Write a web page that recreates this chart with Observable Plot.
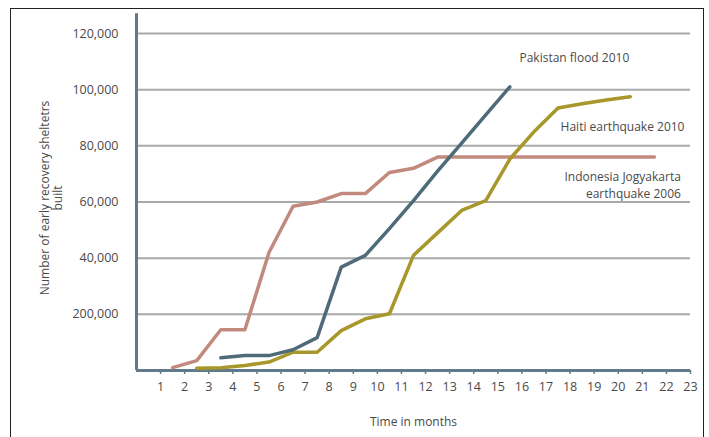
<!DOCTYPE html>
<html><head><meta charset="utf-8">
<script src="https://cdn.jsdelivr.net/npm/d3@7"></script>
<script src="https://cdn.jsdelivr.net/npm/@observablehq/plot@0.6"></script>
<style>
body{margin:0;background:#fff;}
#wrap{position:relative;width:709px;height:437px;overflow:hidden;}
#frame{position:absolute;left:10px;top:8px;width:694px;height:440px;border:1.5px solid #222;pointer-events:none;box-sizing:border-box;}
</style></head><body><div id="wrap"><div id="frame"></div></div>
<script>
const months = d3.range(1, 24);
const yTicks = [20000, 40000, 60000, 80000, 100000, 120000];
const yTickLabels = ["200,000", "40,000", "60,000", "80,000", "100,000", "120,000"];

const indonesiaMonths = [1.5,2.5,3.5,4.5,5.5,6.5,7.5,8.5,9.5,10.5,11.5,12.5,13.5,14.5,15.5,16.5,17.5,18.5,19.5,20.5,21.5];
const indonesiaValues = [1000,3500,14500,14500,42000,58500,60000,63000,63000,70500,72000,76000,76000,76000,76000,76000,76000,76000,76000,76000,76000];

const pakistanMonths = [3.5,4.5,5.5,6.5,7.5,8.5,9.5,10.5,11.5,12.5,13.5,14.5,15.5];
const pakistanValues = [4500,5300,5300,7400,11700,36800,41000,50500,60500,71000,81000,91000,101000];

const haitiMonths = [2.5,3.5,4.5,5.5,6.5,7.5,8.5,9.5,10.5,11.5,12.5,13.5,14.5,15.5,16.5,17.5,18.5,19.5,20.5];
const haitiValues = [800,1000,1800,3000,6500,6500,14200,18400,20200,41000,49000,57000,60500,75300,85000,93500,95000,96300,97500];

const seriesNames = ["Indonesia Jogyakarta\nearthquake 2006", "Haiti earthquake 2010", "Pakistan flood 2010"];

const toRows = (ms, vs) => ms.map((m, i) => ({month: m, value: vs[i]}));
const indonesia = toRows(indonesiaMonths, indonesiaValues);
const pakistan = toRows(pakistanMonths, pakistanValues);
const haiti = toRows(haitiMonths, haitiValues);

const startLabels = [
  {text: seriesNames[2], month: 15.9, value: 111300}
];
const endLabels = [
  {text: seriesNames[1], month: 22.75, value: 87200},
  {text: seriesNames[0], month: 22.6, value: 66500}
];

const axisColor = "#5f7a89";
const textColor = "#4a4a4a";

const chart = Plot.plot({
  width: 709,
  height: 437,
  marginLeft: 136,
  marginRight: 19,
  marginTop: 33,
  marginBottom: 67,
  style: {fontFamily: "'Open Sans', sans-serif", fontSize: "12px", color: textColor, background: "transparent", overflow: "visible"},
  x: {domain: [0, 23]},
  y: {domain: [0, 120000]},
  marks: [
    Plot.ruleY(yTicks, {stroke: "#a9a9a9", strokeWidth: 2}),
    Plot.axisX({ticks: months, tickSize: 4, tickPadding: 8, stroke: axisColor, strokeWidth: 1.5, fill: textColor, fontSize: 12.5, label: null}),
    Plot.axisY({ticks: yTicks, tickSize: 0, tickPadding: 18, tickFormat: (d) => yTickLabels[yTicks.indexOf(d)], fill: textColor, fontSize: 12.5, label: null}),
    Plot.ruleY([0], {x1: 0, x2: 23, stroke: axisColor, strokeWidth: 3}),
    Plot.ruleX([0], {y1: 0, y2: 127000, stroke: axisColor, strokeWidth: 3}),
    Plot.line(indonesia, {x: "month", y: "value", stroke: "#c28a7c", strokeWidth: 3.5}),
    Plot.line(haiti, {x: "month", y: "value", stroke: "#a8972a", strokeWidth: 3.5}),
    Plot.line(pakistan, {x: "month", y: "value", stroke: "#4f6b78", strokeWidth: 3.5}),
    Plot.text(startLabels, {x: "month", y: "value", text: "text", textAnchor: "start", fill: textColor, fontSize: 12}),
    Plot.text(endLabels, {x: "month", y: "value", text: "text", textAnchor: "end", fill: textColor, fontSize: 12, lineHeight: 1.45}),
    Plot.text(["Number of early recovery sheltetrs\nbuilt"], {frameAnchor: "left", textAnchor: "middle", rotate: -90, dx: -85, dy: -4, fill: textColor, fontSize: 12, lineHeight: 1.1}),
    Plot.text(["Time in months"], {frameAnchor: "bottom", dy: 55, fill: textColor, fontSize: 12})
  ]
});
document.getElementById("wrap").prepend(chart);
</script></body></html>
